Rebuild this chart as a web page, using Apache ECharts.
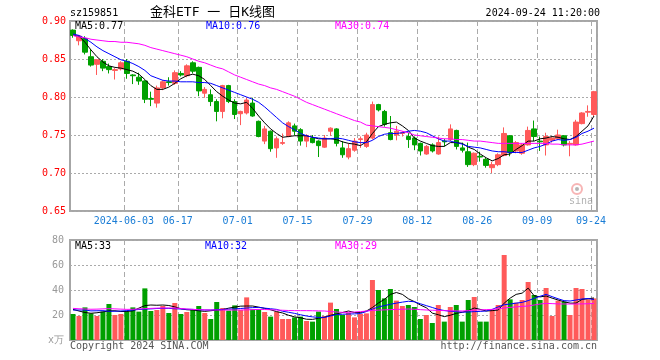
<!DOCTYPE html>
<html><head><meta charset="utf-8">
<script src="https://cdn.jsdelivr.net/npm/echarts@6/dist/echarts.min.js"></script>
<style>html,body{margin:0;padding:0;background:#fff}#c{width:660px;height:360px}</style>
</head><body><div id="c"></div>
<script>
const dates = [
'2024-05-21','2024-05-22','2024-05-23','2024-05-24','2024-05-27','2024-05-28','2024-05-29','2024-05-30','2024-05-31',
'2024-06-03','2024-06-04','2024-06-05','2024-06-06','2024-06-07','2024-06-11','2024-06-12','2024-06-13','2024-06-14',
'2024-06-17','2024-06-18','2024-06-19','2024-06-20','2024-06-21','2024-06-24','2024-06-25','2024-06-26','2024-06-27','2024-06-28',
'2024-07-01','2024-07-02','2024-07-03','2024-07-04','2024-07-05','2024-07-08','2024-07-09','2024-07-10','2024-07-11','2024-07-12',
'2024-07-15','2024-07-16','2024-07-17','2024-07-18','2024-07-19','2024-07-22','2024-07-23','2024-07-24','2024-07-25','2024-07-26',
'2024-07-29','2024-07-30','2024-07-31','2024-08-01','2024-08-02','2024-08-05','2024-08-06','2024-08-07','2024-08-08','2024-08-09',
'2024-08-12','2024-08-13','2024-08-14','2024-08-15','2024-08-16','2024-08-19','2024-08-20','2024-08-21','2024-08-22','2024-08-23',
'2024-08-26','2024-08-27','2024-08-28','2024-08-29','2024-08-30','2024-09-02','2024-09-03','2024-09-04','2024-09-05','2024-09-06',
'2024-09-09','2024-09-10','2024-09-11','2024-09-12','2024-09-13','2024-09-18','2024-09-19','2024-09-20','2024-09-23','2024-09-24'];
const labelIdx = [9,18,28,38,48,58,68,78,87];

const opens = [0.888,0.874,0.877,0.853,0.843,0.847,0.840,0.835,0.837,0.847,
0.829,0.826,0.821,0.798,0.792,0.812,0.820,0.818,0.831,0.828,
0.845,0.839,0.805,0.803,0.794,0.781,0.815,0.794,0.778,0.779,
0.792,0.768,0.742,0.755,0.733,0.739,0.748,0.762,0.757,0.742,
0.746,0.742,0.734,0.755,0.758,0.733,0.721,0.730,0.744,0.735,
0.746,0.790,0.781,0.753,0.750,0.752,0.748,0.746,0.739,0.725,
0.737,0.725,0.742,0.744,0.756,0.733,0.728,0.711,0.722,0.718,
0.707,0.711,0.723,0.749,0.729,0.726,0.737,0.758,0.742,0.737,
0.743,0.745,0.749,0.738,0.737,0.765,0.780,0.777];
const closes = [0.881,0.880,0.859,0.842,0.849,0.838,0.836,0.836,0.845,0.831,
0.828,0.821,0.797,0.797,0.812,0.820,0.819,0.832,0.829,0.841,
0.834,0.808,0.810,0.794,0.781,0.815,0.794,0.777,0.781,0.796,
0.775,0.748,0.758,0.732,0.745,0.740,0.766,0.755,0.742,0.749,
0.740,0.736,0.746,0.759,0.739,0.724,0.732,0.742,0.745,0.750,
0.790,0.783,0.764,0.744,0.755,0.753,0.744,0.737,0.729,0.735,
0.729,0.740,0.741,0.758,0.735,0.730,0.711,0.726,0.721,0.710,
0.711,0.724,0.752,0.727,0.740,0.737,0.756,0.748,0.741,0.748,
0.746,0.750,0.737,0.739,0.767,0.779,0.781,0.807];
const lows = [0.878,0.868,0.856,0.840,0.829,0.834,0.831,0.823,0.835,0.824,
0.817,0.816,0.792,0.788,0.786,0.809,0.815,0.816,0.827,0.826,
0.831,0.801,0.799,0.788,0.768,0.772,0.792,0.771,0.763,0.777,
0.774,0.747,0.738,0.728,0.720,0.737,0.747,0.750,0.736,0.734,
0.739,0.721,0.733,0.749,0.735,0.720,0.718,0.728,0.733,0.733,
0.744,0.781,0.761,0.743,0.743,0.748,0.733,0.730,0.723,0.724,
0.727,0.724,0.735,0.742,0.731,0.727,0.708,0.709,0.715,0.707,
0.700,0.709,0.722,0.722,0.726,0.724,0.736,0.742,0.729,0.723,
0.740,0.744,0.735,0.722,0.736,0.764,0.774,0.775];
const highs = [0.889,0.881,0.880,0.863,0.850,0.850,0.844,0.838,0.847,0.850,
0.830,0.832,0.822,0.807,0.815,0.822,0.826,0.835,0.834,0.843,
0.847,0.840,0.813,0.810,0.797,0.816,0.816,0.797,0.782,0.799,
0.799,0.769,0.762,0.756,0.748,0.752,0.768,0.765,0.759,0.751,
0.750,0.743,0.750,0.760,0.759,0.742,0.739,0.746,0.748,0.753,
0.794,0.791,0.783,0.775,0.762,0.755,0.753,0.748,0.740,0.737,
0.739,0.748,0.745,0.764,0.757,0.740,0.740,0.727,0.728,0.720,
0.715,0.726,0.760,0.750,0.742,0.739,0.761,0.769,0.748,0.753,
0.747,0.757,0.750,0.742,0.770,0.780,0.789,0.808];
const volumes = [20.8,19.2,26.1,21.3,19.2,22.7,28.8,20.0,20.8,22.7,
26.1,22.7,41.3,23.2,24.0,27.2,21.6,29.6,20.8,22.4,
24.0,27.2,21.6,16.8,30.4,25.6,23.5,27.7,24.0,34.1,
24.5,24.5,22.4,18.7,22.7,16.8,16.8,18.1,18.7,15.2,
14.7,22.7,19.2,29.9,24.8,20.0,21.9,18.1,20.8,21.3,
48.0,40.0,33.3,40.8,31.5,27.2,28.0,26.4,16.8,20.0,
13.6,28.0,14.7,26.4,28.0,14.7,32.0,34.4,14.7,14.7,
24.0,28.0,68.0,32.5,29.9,32.0,46.4,36.0,32.0,41.6,
19.2,31.5,30.7,20.0,41.6,40.8,32.5,33.3];
const ma5 = [0.881,0.880,0.872,0.862,0.853,0.846,0.841,0.839,0.838,0.836,
0.834,0.830,0.823,0.815,0.810,0.810,0.813,0.818,0.824,0.828,
0.830,0.828,0.823,0.815,0.807,0.801,0.796,0.792,0.791,0.793,
0.785,0.775,0.766,0.758,0.752,0.747,0.748,0.749,0.749,0.749,
0.747,0.745,0.745,0.745,0.744,0.741,0.739,0.738,0.736,0.741,
0.752,0.761,0.764,0.766,0.767,0.762,0.756,0.746,0.742,0.739,
0.736,0.735,0.735,0.740,0.740,0.739,0.734,0.731,0.725,0.720,
0.716,0.719,0.724,0.725,0.731,0.736,0.742,0.742,0.745,0.746,
0.748,0.747,0.745,0.744,0.748,0.755,0.762,0.775];
const ma10 = [0.883,0.881,0.877,0.872,0.866,0.861,0.857,0.853,0.849,0.847,
0.844,0.840,0.835,0.828,0.825,0.822,0.821,0.821,0.820,0.820,
0.820,0.819,0.819,0.818,0.815,0.812,0.809,0.806,0.803,0.800,
0.797,0.793,0.787,0.780,0.773,0.766,0.761,0.757,0.752,0.749,
0.747,0.746,0.745,0.745,0.746,0.745,0.743,0.741,0.740,0.740,
0.743,0.748,0.751,0.752,0.752,0.753,0.755,0.756,0.755,0.753,
0.749,0.745,0.742,0.742,0.740,0.738,0.735,0.734,0.733,0.731,
0.729,0.728,0.728,0.727,0.727,0.727,0.730,0.733,0.735,0.738,
0.742,0.744,0.743,0.744,0.747,0.752,0.755,0.759];
const ma30 = [0.881,0.879,0.878,0.876,0.875,0.874,0.873,0.873,0.872,0.872,
0.871,0.870,0.868,0.865,0.863,0.861,0.859,0.857,0.855,0.853,
0.850,0.847,0.845,0.842,0.839,0.837,0.833,0.829,0.826,0.823,
0.820,0.817,0.815,0.812,0.810,0.807,0.804,0.801,0.797,0.793,
0.790,0.787,0.784,0.781,0.778,0.775,0.772,0.769,0.767,0.763,
0.762,0.761,0.760,0.759,0.757,0.755,0.753,0.750,0.749,0.748,
0.747,0.746,0.745,0.745,0.744,0.744,0.743,0.742,0.742,0.741,
0.740,0.739,0.739,0.739,0.739,0.739,0.739,0.739,0.739,0.739,
0.738,0.738,0.737,0.737,0.737,0.738,0.740,0.742];
const vma5 = [24.5,23.2,22.0,21.4,21.8,22.5,23.3,23.4,22.8,22.8,
23.3,25.5,27.5,28.0,27.8,28.0,27.6,26.5,25.0,24.2,
24.0,23.4,22.9,23.4,24.0,24.3,25.5,26.3,27.1,27.2,
27.2,26.3,25.3,24.2,22.7,21.6,19.8,18.5,17.8,16.6,
16.5,17.4,18.2,19.8,20.8,22.0,23.2,22.0,22.0,23.2,
26.0,29.6,32.5,36.5,38.0,36.5,33.0,30.7,28.0,25.8,
21.5,20.2,18.7,19.8,21.3,22.2,23.5,25.6,24.5,23.2,
23.5,24.0,29.5,33.5,36.5,37.5,41.5,35.4,34.5,35.2,
33.5,32.0,30.6,29.5,29.5,32.5,33.0,33.6];
const vma10 = [24.0,24.0,24.0,23.3,23.4,23.5,23.0,23.0,23.2,23.5,
24.0,24.4,24.7,24.9,25.2,25.3,25.3,25.0,24.8,24.6,
24.5,24.2,24.0,24.0,24.2,24.5,24.7,24.9,25.2,25.6,
25.9,26.1,25.5,25.0,24.5,23.0,22.2,21.3,20.2,19.2,
18.5,18.1,18.1,19.2,20.4,20.6,20.8,20.9,21.2,22.8,
24.7,26.5,27.5,28.6,29.5,30.3,31.0,30.6,29.0,27.5,
26.0,24.5,23.6,23.0,22.7,22.3,22.4,22.7,22.9,23.2,
24.5,26.5,28.2,28.8,29.5,30.1,31.5,33.3,35.0,36.5,
34.7,33.0,31.5,31.2,32.0,32.8,33.2,32.3];
const vma30 = [25.3,25.0,24.8,24.6,24.7,24.9,25.1,24.9,24.7,24.5,
24.6,24.8,25.1,25.3,25.5,25.6,25.6,25.6,25.2,24.8,
24.5,24.3,24.1,24.0,24.0,24.0,24.0,24.0,24.0,24.1,
24.3,24.5,24.4,24.2,24.0,23.8,23.6,23.5,23.5,23.5,
23.4,23.3,23.2,22.8,22.4,22.1,22.2,22.4,22.7,23.2,
23.7,23.9,24.1,24.3,24.5,24.6,24.8,24.6,24.3,24.0,
23.8,23.7,23.5,23.4,23.3,23.2,23.5,24.0,24.1,24.3,
24.5,25.0,25.6,26.1,26.5,26.9,27.2,28.0,28.8,29.3,
29.1,28.9,28.8,28.8,28.8,28.9,29.0,29.3];

const MONO = "'DejaVu Sans Mono', monospace";
const UP = '#ff5a5a', DOWN = '#00a000';
const kData = dates.map((d, i) => [opens[i], closes[i], lows[i], highs[i]]);
const volData = volumes.map((v, i) => ({ value: v, itemStyle: { color: closes[i] >= opens[i] ? UP : DOWN } }));
const isLab = i => labelIdx.indexOf(i) >= 0;

const chart = echarts.init(document.getElementById('c'), null, { renderer: 'canvas' });

function xAx(gi, showLabel) {
  return {
    type: 'category', gridIndex: gi, data: dates, boundaryGap: true,
    axisLine: { show: false }, axisTick: { show: false },
    axisLabel: {
      show: showLabel, interval: (i) => isLab(i),
      formatter: (v, i) => (i === labelIdx[0] ? v : v.slice(5)),
      color: '#1a7dd6', fontFamily: MONO, fontSize: 10, margin: 5, padding: [0, 6, 0, 0]
    },
    splitLine: { show: true, interval: (i) => isLab(i), lineStyle: { color: '#aaaaaa', type: [5, 3], width: 1 } }
  };
}
function line(name, data, color, xi, yi) {
  return { name, type: 'line', data, xAxisIndex: xi, yAxisIndex: yi, showSymbol: false, symbol: 'none',
    lineStyle: { color, width: 1 }, itemStyle: { color }, silent: true, z: 5 };
}
function txt(text, x, y, fill, size, align, family) {
  return { type: 'text', x, y, silent: true, z: 100,
    style: { text, fill, font: size + 'px ' + (family || MONO), textAlign: align || 'left', align: align || 'left',
      textVerticalAlign: 'middle', verticalAlign: 'middle' } };
}

const option = {
  animation: false,
  backgroundColor: '#ffffff',
  grid: [
    { left: 70, right: 63, top: 21, height: 190, show: true, borderColor: '#a6a6a6', borderWidth: 2, backgroundColor: 'transparent' },
    { left: 70, right: 63, top: 240, height: 100, show: true, borderColor: '#a6a6a6', borderWidth: 2, backgroundColor: 'transparent' }
  ],
  xAxis: [xAx(0, true), xAx(1, false)],
  yAxis: [
    { type: 'value', gridIndex: 0, min: 0.65, max: 0.90, interval: 0.05, scale: true,
      axisLine: { show: false }, axisTick: { show: false },
      axisLabel: { formatter: v => v.toFixed(2), color: '#ff0000', fontFamily: MONO, fontSize: 10, margin: 4 },
      splitLine: { show: true, lineStyle: { color: '#aaaaaa', type: [2, 2], width: 1 } } },
    { type: 'value', gridIndex: 1, min: 0, max: 80, interval: 20,
      axisLine: { show: false }, axisTick: { show: false },
      axisLabel: { formatter: v => (v === 0 ? 'x万' : String(v)), color: '#999999', fontFamily: MONO, fontSize: 10, margin: 6 },
      splitLine: { show: true, lineStyle: { color: '#aaaaaa', type: [2, 2], width: 1 } } }
  ],
  series: [
    { type: 'candlestick', data: kData, xAxisIndex: 0, yAxisIndex: 0, barWidth: 5,
      itemStyle: { color: UP, color0: DOWN, borderColor: UP, borderColor0: DOWN, borderWidth: 1 } },
    line('MA5', ma5, '#000000', 0, 0),
    line('MA10', ma10, '#0000ff', 0, 0),
    line('MA30', ma30, '#ff00ff', 0, 0),
    { type: 'bar', data: volData, xAxisIndex: 1, yAxisIndex: 1, barWidth: 5 },
    line('VMA5', vma5, '#000000', 1, 1),
    line('VMA10', vma10, '#0000ff', 1, 1),
    line('VMA30', vma30, '#ff00ff', 1, 1)
  ],
  graphic: [
    txt('sz159851', 70, 13, '#000000', 10),
    txt('金科ETF 一 日K线图', 150, 13, '#000000', 13, 'left', "'DejaVu Sans Mono','Noto Sans CJK SC',sans-serif"),
    txt('2024-09-24 11:20:00', 600, 13, '#000000', 10, 'right'),
    txt('MA5:0.77', 75, 26, '#000000', 10),
    txt('MA10:0.76', 206, 26, '#0000ff', 10),
    txt('MA30:0.74', 335, 26, '#ff00ff', 10),
    txt('MA5:33', 75, 246, '#000000', 10),
    txt('MA10:32', 205, 246, '#0000ff', 10),
    txt('MA30:29', 335, 246, '#ff00ff', 10),
    txt('Copyright 2024 SINA.COM', 70, 346, '#555555', 10),
    txt('http://finance.sina.com.cn', 597, 346, '#555555', 10, 'right'),
    { type: 'circle', shape: { cx: 577, cy: 189, r: 5 }, style: { fill: 'none', stroke: 'rgba(240,120,120,0.55)', lineWidth: 2 }, silent: true, z: 90 },
    { type: 'circle', shape: { cx: 577, cy: 189, r: 2 }, style: { fill: 'rgba(150,150,150,0.7)' }, silent: true, z: 90 },
    txt('sina', 581, 201, 'rgba(150,150,150,0.75)', 15, 'center', "italic bold 'DejaVu Sans',sans-serif")
  ]
};
chart.setOption(option);
</script>
</body></html>
